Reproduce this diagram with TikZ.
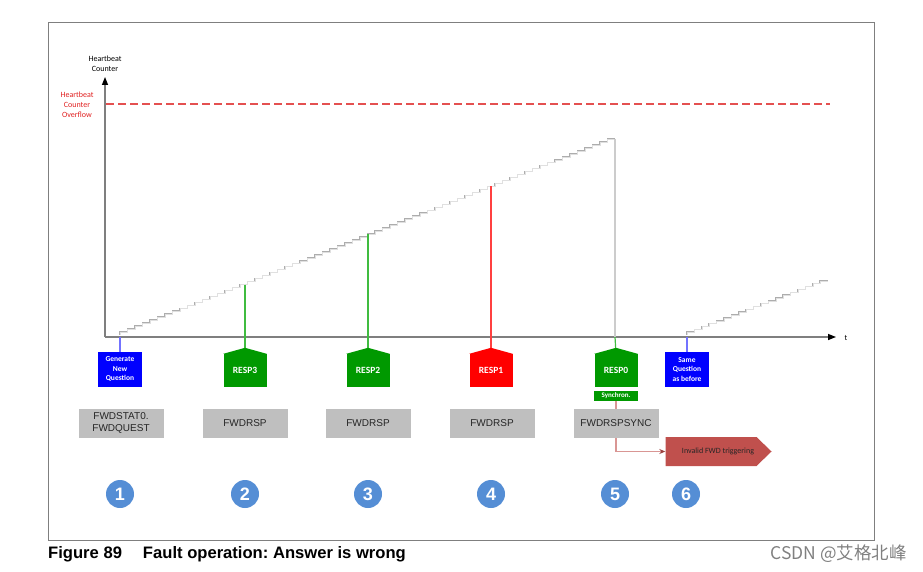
\documentclass[tikz,border=0pt]{standalone}
\usepackage{fontspec}
\setmainfont{Liberation Sans}
\newfontfamily\calfont{Carlito}
\newfontfamily\cjkfont{Noto Sans CJK SC}
\usetikzlibrary{arrows.meta,shapes.arrows,shapes.symbols,calc}
\frenchspacing
\definecolor{gbox}{HTML}{BFBFBF}
\definecolor{rgreen}{HTML}{009900}
\definecolor{rred}{HTML}{FF0000}
\definecolor{qblue}{HTML}{0000FF}
\definecolor{cblue}{HTML}{558ED5}
\definecolor{invred}{HTML}{C0504D}
\definecolor{axgray}{HTML}{7F7F7F}
\definecolor{ovred}{HTML}{E02020}
\definecolor{dashred}{RGB}{228,80,80}
\tikzset{
  frame/.style={draw=axgray, line width=0.8},
  axis/.style={draw=axgray, line width=1.4, -{Triangle[length=8pt,width=6pt,fill=black,color=black]}},
  stairA/.style={draw=black!32, line width=1.5},
  stairB/.style={draw=black!12, line width=0.5},
  gboxst/.style={fill=gbox, minimum width=85, minimum height=29, inner sep=0, align=center,
     text=black!85, font=\fontsize{10}{11.5}\selectfont},
  qbox/.style={fill=qblue, minimum width=44, minimum height=35, inner sep=0, align=center,
     text=white, font=\calfont\bfseries\fontsize{7.5}{9.5}\selectfont},
  respbox/.style={minimum width=43, minimum height=33, inner sep=0, text=white,
     font=\calfont\bfseries\fontsize{9.5}{11}\selectfont},
  numc/.style={circle, fill=cblue, minimum size=28, inner sep=0, text=white,
     font=\bfseries\fontsize{18}{18}\selectfont},
  gline/.style={draw=green!65!black!75, line width=1.2},
  rline/.style={draw=red!75, line width=1.2},
  bline/.style={draw=blue!55, line width=1.2},
  lgline/.style={draw=black!20, line width=1.4},
  ovdash/.style={draw=dashred, line width=1.5, dash pattern=on 8pt off 4pt},
  smalllab/.style={font=\calfont\fontsize{8}{10}\selectfont, align=center},
}
\begin{document}
\begin{tikzpicture}[x=1pt,y=-1pt]
\useasboundingbox (0,0) rectangle (923,572);
% frame
\draw[frame] (48,22) rectangle (874,540);
% overflow line
\coordinate (ov0) at (106,104);
\coordinate (ov1) at (830,104);
\draw[ovdash] (ov0) -- (ov1);
\node[smalllab, text=ovred] (ovf) at (77,105) {Heartbeat\\Counter\\Overflow};
% axes
\coordinate (o) at (105,337);
\coordinate (yend) at (105,77);
\coordinate (xend) at (836,337);
\draw[axis] (o) -- (yend);
\draw[axis] (o) -- (xend);
\node[smalllab] (ylab) at (105,64) {Heartbeat\\Counter};
\node[smalllab] (tlab) at (846,338) {t};
% staircases
\coordinate (st1) at (120,335);
\coordinate (st2) at (687,335);
\draw[stairA] (st1) \foreach \i in {1,...,66}{ -- ++(0,-2.97) -- ++(7.5,0)};
\draw[stairB] (st1) \foreach \i in {1,...,66}{ -- ++(0,-2.97) -- ++(7.5,0)};
\draw[stairA] (st2) \foreach \i in {1,...,19}{ -- ++(0,-2.85) -- ++(7.4,0)};
\draw[stairB] (st2) \foreach \i in {1,...,19}{ -- ++(0,-2.85) -- ++(7.4,0)};
\coordinate (s3) at (245,284.5);
\coordinate (s2) at (368,234);
\coordinate (s1) at (491,186.5);
\coordinate (s0) at (615,139);
\coordinate (a0) at (615,337);
\coordinate (a6) at (687,337);
\coordinate (a1) at (120,337);
% boxes
\node[qbox] (q1) at (120,369.5) {Generate\\New\\Question};
\node[qbox] (q6) at (687,369.5) {Same\\Question\\as before};
\node[respbox, fill=rgreen] (r3) at (245,370.5) {RESP3};
\node[respbox, fill=rgreen] (r2) at (368,370.5) {RESP2};
\node[respbox, fill=rred] (r1) at (491,370.5) {RESP1};
\node[respbox, fill=rgreen] (r0) at (616,370.5) {RESP0};
\node[fill=rgreen, minimum width=44, minimum height=10, inner sep=0, text=white,
      font=\calfont\bfseries\fontsize{7}{8}\selectfont] (sync) at (616,396) {Synchron.};
% connectors
\draw[bline] (a1) -- (q1.north);
\draw[bline] (a6) -- (q6.north);
\draw[gline] (s3) -- (r3.north);
\draw[gline] (s2) -- (r2.north);
\draw[rline] (s1) -- (r1.north);
\draw[lgline] (s0) -- (a0);
\draw[gline] (a0) -- (r0.north);
\foreach \n/\c in {r3/rgreen,r2/rgreen,r1/rred,r0/rgreen}
  \fill[\c] (\n.north west) -- ([yshift=6pt]\n.north) -- (\n.north east) -- cycle;
% invalid arrow
\node[signal, signal to=east, signal pointer angle=88, fill=invred, minimum width=106,
      minimum height=29, inner sep=0, text=black!85,
      font=\calfont\fontsize{8}{9}\selectfont] (inv) at (711,451.5) {\hspace*{14pt}Invalid FWD triggering};
\draw[draw=invred!60, line width=1.3, -{Stealth[length=6pt,width=5pt,color=invred!80!black]}]
  (sync.south) |- (inv.west);
% gray boxes
\node[gboxst] (g1) at (121,423) {FWDSTAT0.\\FWDQUEST};
\node[gboxst] (g2) at (245,423) {FWDRSP};
\node[gboxst] (g3) at (368,423) {FWDRSP};
\node[gboxst] (g4) at (492,423) {FWDRSP};
\node[gboxst] (g5) at (616,423) {FWDRSPSYNC};
% numbers
\node[numc] (n1) at (120,494) {1};
\node[numc] (n2) at (245,494) {2};
\node[numc] (n3) at (368,494) {3};
\node[numc] (n4) at (491,494) {4};
\node[numc] (n5) at (615,494) {5};
\node[numc] (n6) at (686,494) {6};
% caption
\node[anchor=base west, inner sep=0, font=\bfseries\fontsize{16.6}{16.6}\selectfont] (cap) at (48,558)
  {Figure 89\hspace{21pt}Fault operation: Answer is wrong};
\node[anchor=base east, inner sep=0, text=black!50, font=\cjkfont\fontsize{17.5}{17.5}\selectfont] (wm)
  at (907,559) {CSDN @艾格北峰};
\end{tikzpicture}
\end{document}
